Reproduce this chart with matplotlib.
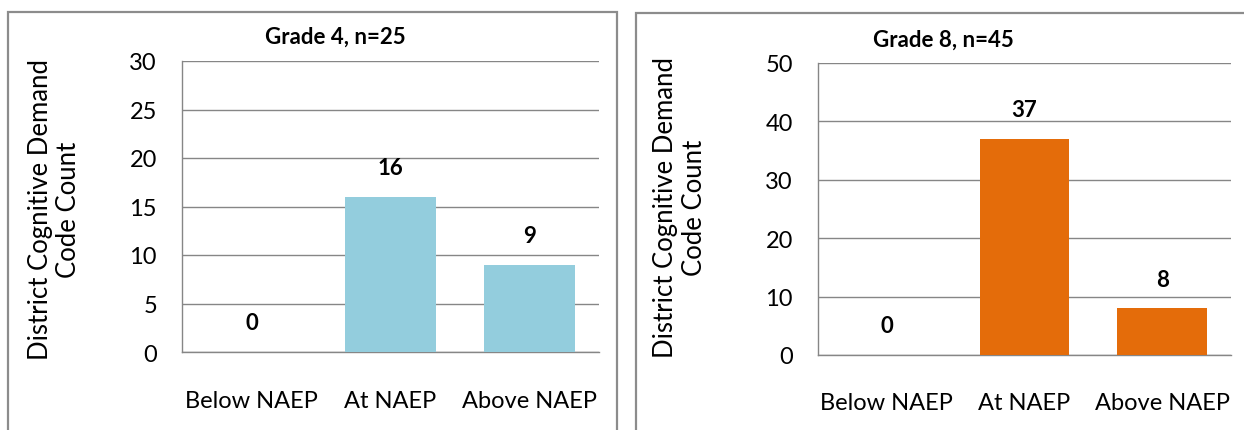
import matplotlib
matplotlib.use("Agg")
import matplotlib.pyplot as plt
from matplotlib.patches import Rectangle

categories = ["Below NAEP", "At NAEP", "Above NAEP"]
grade4_values = [0, 16, 9]
grade8_values = [0, 37, 8]
grade4_title = "Grade 4, n=25"
grade8_title = "Grade 8, n=45"
ylabel = "District Cognitive Demand\nCode Count"
grade4_ticks = [0, 5, 10, 15, 20, 25, 30]
grade8_ticks = [0, 10, 20, 30, 40, 50]

plt.rcParams['font.family'] = ['Lato', 'DejaVu Sans']

W, H = 1244, 431
fig = plt.figure(figsize=(W / 100, H / 100), dpi=100)


def fx(px):
    return px / W


def fy(py):
    return 1 - py / H


# panel borders
for x0, x1, y0 in [(8, 617, 13), (636, 1260, 14)]:
    fig.patches.append(Rectangle((fx(x0), fy(H + 10)), fx(x1 - x0), (H + 10 - y0) / H,
                                 transform=fig.transFigure, fill=False,
                                 edgecolor="#8c8c8c", linewidth=1.6))

panels = [
    dict(vals=grade4_values, ticks=grade4_ticks, title=grade4_title, color="#93CDDD",
         ax=(182, 599, 62, 353), title_xy=(335, 37), ylab_xy=(55, 210)),
    dict(vals=grade8_values, ticks=grade8_ticks, title=grade8_title, color="#E46C0A",
         ax=(818, 1231, 64, 356), title_xy=(943, 40), ylab_xy=(680, 208)),
]

for p in panels:
    x0, x1, y0, y1 = p["ax"]
    ax = fig.add_axes([fx(x0), fy(y1), fx(x1 - x0), (y1 - y0) / H])
    xs = range(len(categories))
    ax.bar(xs, p["vals"], width=0.65, color=p["color"], zorder=3)
    ax.set_xlim(-0.5, len(categories) - 0.5)
    ax.set_ylim(p["ticks"][0], p["ticks"][-1])
    ax.set_yticks(p["ticks"])
    ax.set_xticks(list(xs))
    ax.set_xticklabels(categories)
    ax.yaxis.grid(True, color="#868686", linewidth=1.0, zorder=0)
    ax.set_axisbelow(True)
    for s in ["top", "right"]:
        ax.spines[s].set_visible(False)
    for s in ["left", "bottom"]:
        ax.spines[s].set_color("#868686")
        ax.spines[s].set_linewidth(1.0)
    ax.tick_params(axis="both", length=0, labelsize=17, colors="#000000")
    ax.tick_params(axis="y", pad=18)
    ax.tick_params(axis="x", pad=27)
    for xi, v in zip(xs, p["vals"]):
        ax.annotate(str(v), (xi, v), xytext=(0, 21), textcoords="offset points",
                    ha="center", va="center", fontsize=16, fontweight="bold")
    tx, ty = p["title_xy"]
    fig.text(fx(tx), fy(ty), p["title"], ha="center", va="center",
             fontsize=16, fontweight="bold")
    lx, ly = p["ylab_xy"]
    fig.text(fx(lx), fy(ly), ylabel, ha="center", va="center", rotation=90,
             fontsize=18.5, linespacing=1.15)

fig.savefig("out.png", dpi=100)
